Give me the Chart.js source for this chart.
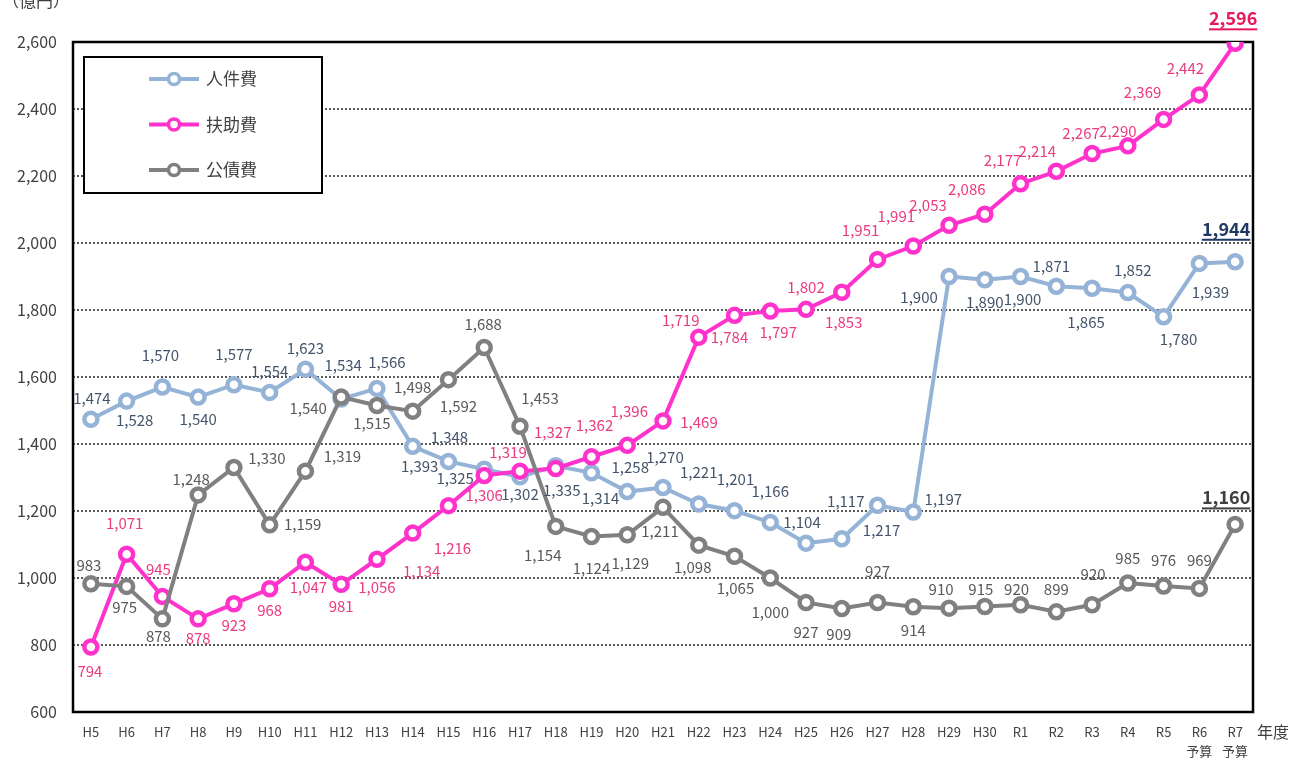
<!DOCTYPE html>
<html><head><meta charset="utf-8">
<script src="https://cdn.jsdelivr.net/npm/chart.js@4/dist/chart.umd.min.js"></script>
<style>html,body{margin:0;padding:0;background:#fff;}#wrap{width:1300px;height:760px;position:relative;}</style>
</head><body><div id="wrap"><canvas id="c" width="1300" height="760"></canvas></div>
<script>
const categories = ['H5','H6','H7','H8','H9','H10','H11','H12','H13','H14','H15','H16','H17','H18','H19','H20','H21','H22','H23','H24','H25','H26','H27','H28','H29','H30','R1','R2','R3','R4','R5',['R6','予算'],['R7','予算']];
const seriesNames = ['人件費','扶助費','公債費'];
const jinkenhi = [1474,1528,1570,1540,1577,1554,1623,1534,1566,1393,1348,1325,1302,1335,1314,1258,1270,1221,1201,1166,1104,1117,1217,1197,1900,1890,1900,1871,1865,1852,1780,1939,1944];
const fujohi = [794,1071,945,878,923,968,1047,981,1056,1134,1216,1306,1319,1327,1362,1396,1469,1719,1784,1797,1802,1853,1951,1991,2053,2086,2177,2214,2267,2290,2369,2442,2596];
const kosaihi = [983,975,878,1248,1330,1159,1319,1540,1515,1498,1592,1688,1453,1154,1124,1129,1211,1098,1065,1000,927,909,927,914,910,915,920,899,920,985,976,969,1160];
const yTicks = {min:600, max:2600, step:200};
const unitLabel = '（億円）';
const axisTitle = '年度';

// label offsets (dx, dy) from each point, in pixels
const offJ = [[1,-21],[8,19],[-2,-32],[0,22],[0,-30],[0,-21],[0,-21],[2,-34],[10,-26],[7,20],[1,-24],[-29,9],[0,17],[6,25],[9,25],[3,-24],[2,-30],[0,-32],[1,-31],[0,-31],[-4,-21],[4,-38],[4,25],[30,-13],[-30,21],[0,22],[2,23],[-5,-20],[-6,34],[5,-22],[15,23],[11,29],[-9,-33]];
const offF = [[-1,24],[-2,-31],[-4,-27],[0,19],[0,22],[0,22],[3,25],[0,22],[0,28],[9,38],[4,43],[0,20],[-12,-19],[-3,-36],[3,-31],[2,-34],[36,1],[-18,-17],[-5,22],[8,21],[0,-22],[2,30],[-17,-29],[-17,-30],[-21,-20],[-18,-25],[-18,-23],[-19,-20],[-11,-20],[-10,-15],[-21,-27],[-14,-27],[-2,-25]];
const offK = [[-2,-18],[-2,21],[-4,17],[-7,-16],[33,-9],[33,0],[37,-15],[-33,11],[-5,18],[0,-24],[10,27],[-1,-23],[20,-28],[-13,29],[0,32],[3,29],[-3,24],[-6,22],[1,32],[0,34],[0,30],[-3,26],[0,-31],[0,23],[-8,-19],[-4,-17],[-4,-16],[0,-23],[1,-31],[0,-25],[0,-26],[0,-28],[-9,-27]];

const FONT = '"Noto Sans CJK JP", "Noto Sans", sans-serif';
const lineColors = ['#95B3D7','#FF33CC','#808080'];
const labelColors = ['#44546A','#EC3A7E','#595959'];
const lastColors = ['#1F3864','#E6195A','#404040'];
const offsets = [offJ, offF, offK];

const labelPlugin = {
  id:'labels',
  afterDatasetsDraw(chart){
    const ctx = chart.ctx;
    ctx.save();
    ctx.textAlign='center'; ctx.textBaseline='middle';
    chart.data.datasets.forEach((ds,i)=>{
      const meta = chart.getDatasetMeta(i);
      meta.data.forEach((pt,j)=>{
        const txt = ds.data[j].toLocaleString('en-US');
        const o = offsets[i][j];
        const x = pt.x + o[0], y = pt.y + o[1];
        const last = j === ds.data.length-1;
        if (last) {
          ctx.font = 'bold 18px '+FONT;
          ctx.fillStyle = lastColors[i];
          ctx.fillText(txt,x,y);
          const w = ctx.measureText(txt).width;
          ctx.fillRect(x-w/2, y+10, w, 2);
        } else {
          ctx.font = '15px '+FONT;
          ctx.fillStyle = labelColors[i];
          ctx.fillText(txt,x,y);
        }
      });
    });
    ctx.restore();
  }
};

const framePlugin = {
  id:'frame',
  beforeDatasetsDraw(chart){
    const a = chart.chartArea, ctx = chart.ctx;
    ctx.save();
    ctx.strokeStyle='#000'; ctx.lineWidth=2.5;
    ctx.strokeRect(a.left, a.top, a.right-a.left, a.bottom-a.top);
    ctx.restore();
  },
  afterDraw(chart){
    const ctx = chart.ctx, a = chart.chartArea;
    ctx.save();
    ctx.font = '17px '+FONT; ctx.fillStyle='#404040';
    ctx.textAlign='left'; ctx.textBaseline='middle';
    ctx.fillText(unitLabel, 2, 1);
    ctx.font = '16px '+FONT;
    ctx.fillText(axisTitle, a.right+4, 732);
    ctx.fillStyle='#fff';
    ctx.fillRect(84,57,238,136);
    ctx.strokeStyle='#000'; ctx.lineWidth=2;
    ctx.strokeRect(84,57,238,136);
    chart.data.datasets.forEach((ds,i)=>{
      const y = 79 + i*45.5;
      ctx.strokeStyle = ds.borderColor; ctx.lineWidth = 4;
      ctx.beginPath(); ctx.moveTo(149,y); ctx.lineTo(199,y); ctx.stroke();
      ctx.beginPath(); ctx.arc(174,y,5.5,0,Math.PI*2);
      ctx.fillStyle='#fff'; ctx.fill(); ctx.lineWidth=3.5; ctx.stroke();
      ctx.font='17px '+FONT; ctx.fillStyle='#404040';
      ctx.textAlign='left'; ctx.textBaseline='middle';
      ctx.fillText(ds.label, 206, y);
    });
    ctx.restore();
  }
};

const mk = (label, data, i, order) => ({
  label, data, order,
  borderColor: lineColors[i], backgroundColor:'#fff',
  borderWidth: 4, pointRadius: 6.5, pointBorderWidth: 4.5,
  pointBackgroundColor:'#fff', pointBorderColor: lineColors[i],
  pointHoverRadius: 6.5, tension: 0
});

new Chart(document.getElementById('c'), {
  type:'line',
  data:{ labels: categories, datasets:[
    mk(seriesNames[0], jinkenhi, 0, 3),
    mk(seriesNames[1], fujohi, 1, 2),
    mk(seriesNames[2], kosaihi, 2, 1)
  ]},
  options:{
    responsive:false, animation:false, devicePixelRatio:1,
    layout:{padding:{left:0, right:47, top:42, bottom:0}},
    plugins:{legend:{display:false}, tooltip:{enabled:false}},
    scales:{
      x:{ type:'category', offset:true,
        grid:{display:false, drawTicks:false}, border:{display:false},
        ticks:{autoSkip:false, maxRotation:0, padding:10, color:'#404040', font:{family:FONT, size:13, lineHeight:1.5}},
        afterFit(s){ s.height = 48; }
      },
      y:{ min:yTicks.min, max:yTicks.max,
        grid:{color:'#595959', lineWidth:2, drawTicks:false}, border:{display:false, dash:[2,2]},
        ticks:{stepSize:yTicks.step, padding:16, color:'#404040', font:{family:FONT, size:16},
          callback:v=>v.toLocaleString('en-US')},
        afterFit(s){ s.width = 73; }
      }
    }
  },
  plugins:[framePlugin, labelPlugin]
});
</script></body></html>
